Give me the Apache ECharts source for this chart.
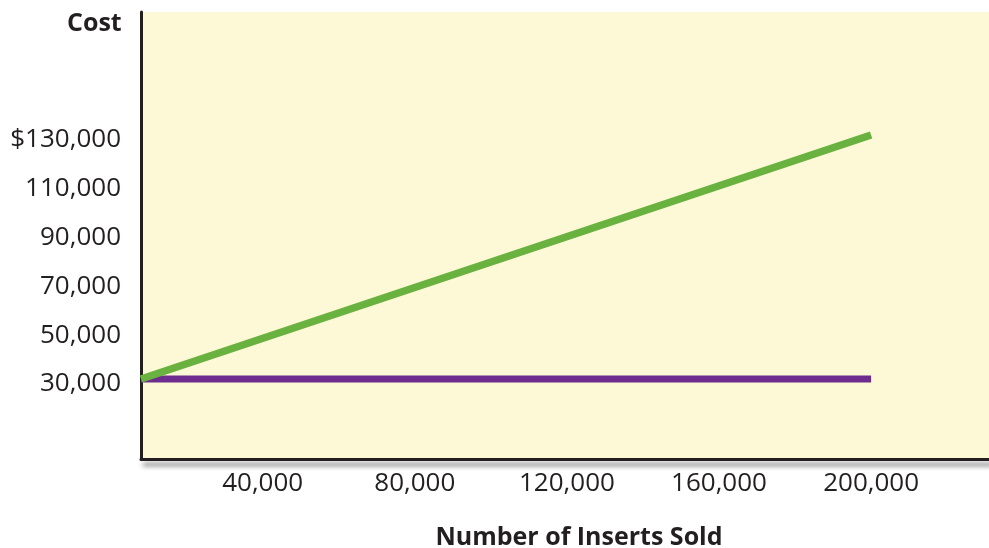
<!DOCTYPE html>
<html>
<head>
<meta charset="utf-8">
<script src="https://cdn.jsdelivr.net/npm/echarts@6/dist/echarts.min.js"></script>
<style>
  html, body { margin: 0; padding: 0; background: #ffffff; }
  #chart { width: 989px; height: 548px; }
</style>
</head>
<body>
<div id="chart"></div>
<script>
// Cost behaviour: variable cost line vs. fixed cost line
const insertsSold = [8000, 200000];
const variableCost = [30000, 130000];
const fixedCost = [30000, 30000];
const xTicks = [40000, 80000, 120000, 160000, 200000];
const yTicks = [30000, 50000, 70000, 90000, 110000, 130000];

const fmt = v => v.toLocaleString('en-US');
const FONT = '"Open Sans", "Noto Sans", sans-serif';
const INK = '#231f20';

const chart = echarts.init(document.getElementById('chart'));
chart.setOption({
  animation: false,
  backgroundColor: '#ffffff',
  title: [
    { text: 'Cost', left: 62, top: 6,
      textStyle: { fontFamily: FONT, fontSize: 25, fontWeight: 'bold', color: INK } },
    { text: 'Number of Inserts Sold', left: 574, top: 520, textAlign: 'center',
      textStyle: { fontFamily: FONT, fontSize: 25, fontWeight: 'bold', color: INK } }
  ],
  grid: { left: 141, top: 12, right: 0, bottom: 89, show: true,
          backgroundColor: '#fdf8d6', borderWidth: 0 },
  xAxis: {
    type: 'value', min: 8000, max: 231000,
    splitLine: { show: false },
    axisTick: { show: false },
    axisLine: { onZero: false, lineStyle: { color: INK, width: 3,
      shadowColor: 'rgba(0,0,0,0.55)', shadowBlur: 5, shadowOffsetY: 5, shadowOffsetX: 3 } },
    axisLabel: { customValues: xTicks, formatter: fmt, margin: 12,
      fontFamily: FONT, fontSize: 26, color: INK }
  },
  yAxis: {
    type: 'value', min: -2800, max: 180400,
    splitLine: { show: false },
    axisTick: { show: false },
    axisLine: { onZero: false, lineStyle: { color: INK, width: 3 } },
    axisLabel: { customValues: yTicks, margin: 20,
      formatter: v => '{t|' + (v === 130000 ? '$' : '') + fmt(v) + '}',
      rich: { t: { fontFamily: FONT, fontSize: 26, color: INK, padding: [10, 0, 0, 0] } },
      fontFamily: FONT, fontSize: 26, color: INK }
  },
  series: [
    { type: 'line', data: insertsSold.map((x, i) => [x, fixedCost[i]]),
      symbol: 'none', lineStyle: { color: '#6e2c8e', width: 7, cap: 'butt' }, z: 3 },
    { type: 'line', data: insertsSold.map((x, i) => [x, variableCost[i]]),
      symbol: 'none', lineStyle: { color: '#6ab23f', width: 7.5, cap: 'butt' }, z: 4 }
  ]
});
</script>
</body>
</html>
